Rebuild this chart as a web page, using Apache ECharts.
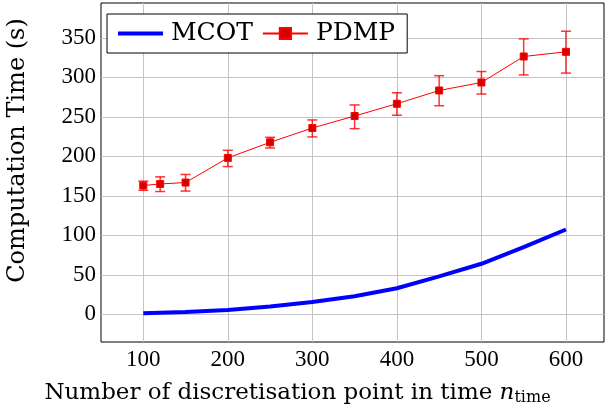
<!DOCTYPE html>
<html>
<head>
<meta charset="utf-8">
<script src="https://cdn.jsdelivr.net/npm/echarts@6/dist/echarts.min.js"></script>
<style>
  html, body { margin: 0; padding: 0; background: #fff; }
  #chart { width: 605px; height: 412px; }
</style>
</head>
<body>
<div id="chart"></div>
<script>
// MCOT: temps de calcul (courbe bleue)
const mcotN = [100, 150, 200, 250, 300, 350, 400, 450, 500, 550, 600]
const mcotTime = [1.4, 3, 5.6, 10, 15.7, 23, 33, 48, 64, 85, 107.4]

// PDMP: moyenne + barres d'erreur
const pdmpN = [100, 120, 150, 200, 250, 300, 350, 400, 450, 500, 550, 600]
const pdmpTime = [163, 165, 166.8, 198, 217.7, 235.8, 251, 266.5, 283.3, 293.4, 326.3, 332.2]
const pdmpLow = [157, 155.4, 156, 187, 210.6, 224.5, 235, 252, 264, 278.8, 303, 305.3]
const pdmpHigh = [168.5, 174, 177, 207.6, 224, 246, 265, 280.4, 302, 307.3, 348.6, 358.3]

const xTicks = [100, 200, 300, 400, 500, 600]
const yTicks = [0, 50, 100, 150, 200, 250, 300, 350]

const serif = '"Liberation Serif", serif'
const wideSerif = '"DejaVu Serif", serif'

const chart = echarts.init(document.getElementById('chart'))

chart.setOption({
  animation: false,
  grid: {
    left: 101,
    right: 1,
    top: 3,
    bottom: 70,
    show: true,
    borderColor: '#000',
    borderWidth: 1,
    containLabel: false,
    outerBoundsMode: 'none'
  },
  legend: {
    left: 107,
    top: 14,
    orient: 'horizontal',
    borderColor: '#000',
    borderWidth: 1,
    borderRadius: 0,
    backgroundColor: '#fff',
    padding: [7, 12, 7, 11],
    itemGap: 9,
    itemWidth: 45,
    itemHeight: 14,
    textStyle: { fontFamily: wideSerif, fontSize: 25, color: '#000', padding: [0, 0, 0, 3] },
    data: [
      { name: 'MCOT', icon: 'path://M0,0L45,0L45,4L0,4Z', itemStyle: { color: '#0000ff' } },
      'PDMP'
    ]
  },
  xAxis: {
    type: 'value',
    min: 50,
    max: 645,
    name: 'Number of discretisation point in time {i|n}{s|time}',
    nameLocation: 'middle',
    nameGap: 39,
    nameTextStyle: {
      fontFamily: wideSerif,
      fontSize: 23,
      color: '#000',
      padding: [0, 110, 0, 0],
      rich: {
        i: { fontFamily: wideSerif, fontSize: 23, fontStyle: 'italic', color: '#000' },
        s: { fontFamily: wideSerif, fontSize: 16, color: '#000', padding: [9, 0, 0, 0] }
      }
    },
    axisLine: { show: false },
    axisTick: { show: false, customValues: xTicks },
    axisLabel: {
      customValues: xTicks,
      fontFamily: serif,
      fontSize: 23,
      color: '#000',
      margin: 6
    },
    splitLine: { show: true, lineStyle: { color: '#c4c4c4', width: 1 } }
  },
  yAxis: {
    type: 'value',
    min: -35,
    max: 394,
    name: 'Computation Time (s)',
    nameLocation: 'middle',
    nameGap: 71,
    nameTextStyle: { fontFamily: wideSerif, fontSize: 24, color: '#000', padding: [0, 0, 0, 44] },
    axisLine: { show: false },
    axisTick: { show: false, customValues: yTicks },
    axisLabel: {
      customValues: yTicks,
      fontFamily: serif,
      fontSize: 23,
      color: '#000',
      margin: 5
    },
    splitLine: { show: true, lineStyle: { color: '#c4c4c4', width: 1 } }
  },
  series: [
    {
      name: 'MCOT',
      type: 'line',
      symbol: 'none',
      lineStyle: { color: '#0000ff', width: 4 },
      itemStyle: { color: '#0000ff' },
      data: mcotN.map((n, i) => [n, mcotTime[i]]),
      z: 3
    },
    {
      name: 'PDMP',
      type: 'line',
      symbol: 'rect',
      symbolSize: 7,
      lineStyle: { color: '#ff0000', width: 1 },
      itemStyle: { color: '#d40000', borderColor: '#ff0000', borderWidth: 1 },
      data: pdmpN.map((n, i) => [n, pdmpTime[i]]),
      z: 4
    },
    {
      name: 'PDMP err',
      type: 'custom',
      silent: true,
      z: 3,
      data: pdmpN.map((n, i) => [n, pdmpLow[i], pdmpHigh[i]]),
      renderItem: function (params, api) {
        const lo = api.coord([api.value(0), api.value(1)])
        const hi = api.coord([api.value(0), api.value(2)])
        const w = 5
        const style = { stroke: '#ff0000', lineWidth: 1.5, opacity: 0.8 }
        return {
          type: 'group',
          children: [
            { type: 'line', shape: { x1: hi[0], y1: hi[1], x2: lo[0], y2: lo[1] }, style: style },
            { type: 'line', shape: { x1: hi[0] - w, y1: hi[1], x2: hi[0] + w, y2: hi[1] }, style: style },
            { type: 'line', shape: { x1: lo[0] - w, y1: lo[1], x2: lo[0] + w, y2: lo[1] }, style: style }
          ]
        }
      }
    }
  ]
})
</script>
</body>
</html>
